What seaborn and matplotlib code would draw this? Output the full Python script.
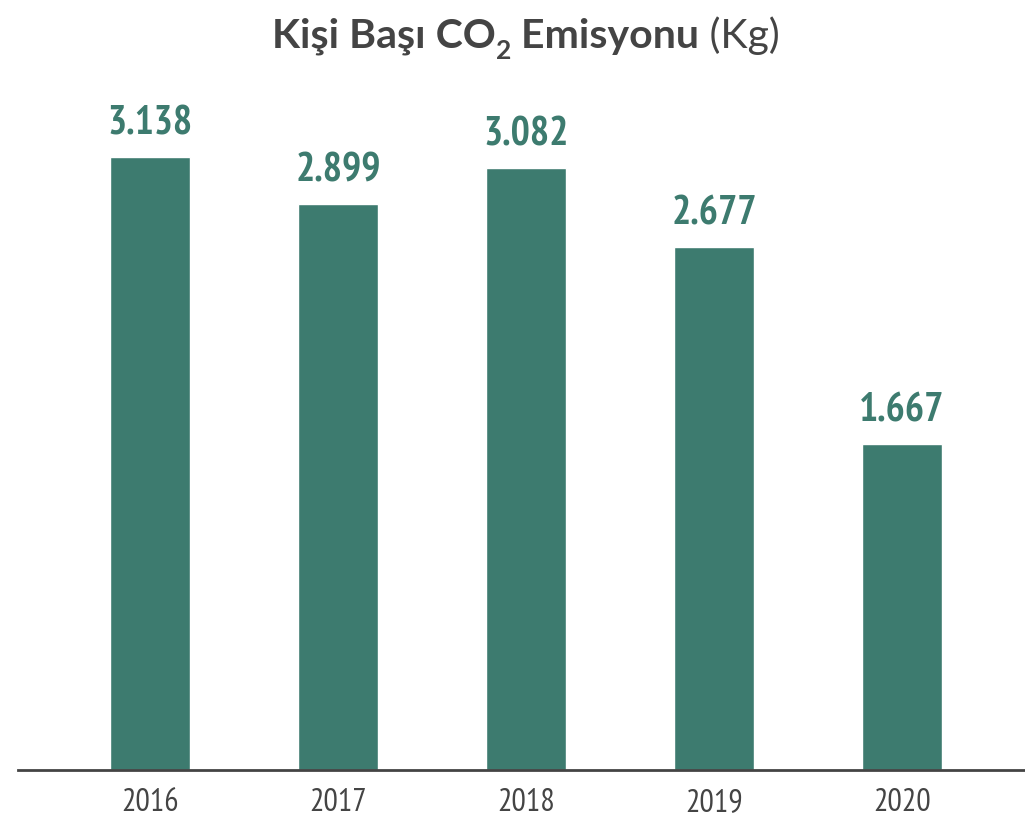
import pandas as pd
import matplotlib.pyplot as plt
import seaborn as sns
from matplotlib import font_manager as fm

years = ['2016', '2017', '2018', '2019', '2020']
emissions = [3.138, 2.899, 3.082, 2.677, 1.667]
value_labels = ['3.138', '2.899', '3.082', '2.677', '1.667']

bar_color = '#3d7b6f'
text_color = '#444444'


def pick_font(candidates, need_bold=False):
    for name in candidates:
        weights = [f.weight for f in fm.fontManager.ttflist if f.name == name]
        if not weights:
            continue
        if need_bold and not any(w in (700, 'bold') for w in weights):
            continue
        return name
    return 'DejaVu Sans'


narrow = pick_font(['PT Sans Narrow', 'Fira Sans Condensed', 'Roboto Condensed',
                    'Liberation Sans Narrow'], need_bold=True)
title_font = pick_font(['Figtree', 'Outfit', 'Urbanist', 'Lexend', 'Nunito Sans',
                        'Lato'], need_bold=True)

sns.set_style('white')
plt.rcParams['font.family'] = [narrow, 'DejaVu Sans']

df = pd.DataFrame({'year': years, 'value': emissions})

fig = plt.figure(figsize=(10.25, 8.2), dpi=100)
ax = fig.add_axes([18 / 1025, 49 / 820, 1 - 18 / 1025, (771 - 68) / 820])

sns.barplot(data=df, x='year', y='value', color=bar_color, width=0.43,
            saturation=1, ax=ax)

ax.set_xlim(-0.702, 4.654)
ax.set_ylim(0, 3.6)

# value labels above the bars
for patch, lab in zip(ax.patches, value_labels):
    cx = patch.get_x() + patch.get_width() / 2
    ax.annotate(lab, (cx, patch.get_height()), xytext=(0, 17),
                textcoords='offset points', ha='center', va='baseline',
                fontsize=29, fontweight='bold', color=bar_color)

for side in ['top', 'right', 'left']:
    ax.spines[side].set_visible(False)
ax.spines['bottom'].set_color(text_color)
ax.spines['bottom'].set_linewidth(2)
ax.set_yticks([])
ax.set_xlabel('')
ax.set_ylabel('')
ax.tick_params(axis='x', length=0, pad=12, labelsize=23, labelcolor=text_color)

# title built from pieces so the "2" can sit low and "(Kg)" stays light
fig.canvas.draw()
renderer = fig.canvas.get_renderer()
pieces = [('Kişi Başı CO', 29.5, 'bold', 0),
          ('2', 19, 'bold', -11),
          (' Emisyonu', 29.5, 'bold', 0),
          (' (Kg)', 29.5, 'normal', 0)]
texts = []
x = 0
for s, size, weight, dy in pieces:
    t = fig.text(x, 0, s, fontsize=size, fontweight=weight, color=text_color,
                 family=[title_font, 'DejaVu Sans'], transform=None, va='baseline')
    w = t.get_window_extent(renderer).width
    texts.append((t, x, dy))
    x += w
start = 526 - x / 2
base = 820 - 48
for t, off, dy in texts:
    t.set_position((start + off, base + dy))

fig.savefig('out.png', dpi=100)
